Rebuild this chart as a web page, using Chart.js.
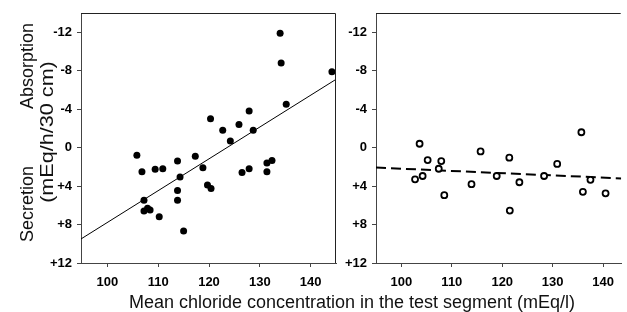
<!DOCTYPE html>
<html>
<head>
<meta charset="utf-8">
<script src="https://cdn.jsdelivr.net/npm/chart.js@4.4.1/dist/chart.umd.min.js"></script>
<style>
  body { margin: 0; background: #fff; }
  #wrap { position: relative; width: 627px; height: 312px; overflow: hidden; font-family: "Liberation Sans", Arial, sans-serif; }
  .box { position: absolute; top: 0; height: 312px; }
  .lbl { position: absolute; color: #111; font-size: 18px; white-space: nowrap; }
  .rot { transform: translate(-50%, -50%) rotate(-90deg); }
</style>
</head>
<body>
<div id="wrap">
  <div class="box" style="left:0; width:340px;"><canvas id="leftChart"></canvas></div>
  <div class="box" style="left:340px; width:287px;"><canvas id="rightChart"></canvas></div>
  <div class="lbl rot" style="left:27px; top:66px;">Absorption</div>
  <div class="lbl rot" style="left:27px; top:204px;">Secretion</div>
  <div class="lbl" style="left:47px; top:132px; transform:translate(-50%,-50%) rotate(-90deg) scaleX(1.2);">(mEq/h/30 cm)</div>
  <div class="lbl" style="left:352px; top:302px; transform:translate(-50%,-50%);">Mean chloride concentration in the test segment (mEq/l)</div>
</div>
<script>
// y: negative = absorption, positive = secretion
const yTicks = [-12, -8, -4, 0, 4, 8, 12];
const xTicks = [100, 110, 120, 130, 140];

// left panel: filled circles
const leftX = [134.0, 134.2, 144.2, 135.2, 127.9, 120.3, 122.7, 125.9, 128.7, 124.2,
               105.8, 117.3, 113.8, 106.8, 109.4, 110.9, 118.8, 114.3, 126.5, 127.9,
               131.4, 132.4, 131.4, 119.7, 120.4, 113.8, 113.8, 107.2, 107.2, 107.9,
               108.4, 110.2, 115.0];
const leftY = [-11.9, -8.8, -7.9, -4.5, -3.8, -3.0, -1.8, -2.4, -1.8, -0.7,
               0.8, 0.9, 1.4, 2.5, 2.25, 2.2, 2.1, 3.05, 2.6, 2.2,
               1.6, 1.35, 2.5, 3.9, 4.26, 4.47, 5.47, 5.47, 6.6, 6.3,
               6.5, 7.2, 8.66];
const leftFitX = [94.8, 145];
const leftFitY = [9.5, -7.1];

// right panel: open circles
const rightX = [103.6, 102.7, 104.2, 105.2, 107.9, 107.4, 108.5, 113.9, 115.7, 118.9,
                121.4, 121.5, 123.4, 128.3, 130.9, 135.7, 136.0, 137.5, 140.5];
const rightY = [-0.4, 3.3, 2.95, 1.3, 1.4, 2.2, 4.95, 3.8, 0.4, 2.95,
                1.05, 6.55, 3.6, 2.95, 1.7, -1.6, 4.6, 3.35, 4.75];
const rightFitX = [94.95, 143.6];
const rightFitY = [2.08, 3.2];

const pts = (xs, ys) => xs.map((x, i) => ({ x, y: ys[i] }));

const frame = {
  id: "frame",
  afterDraw(chart, args, opts) {
    const { ctx, chartArea: a } = chart;
    ctx.save();
    ctx.strokeStyle = "#222";
    ctx.lineWidth = 1;
    ctx.beginPath();
    ctx.moveTo(a.left, a.top + 0.5);
    ctx.lineTo(a.right - 0.5, a.top + 0.5);
    if (opts.right) ctx.lineTo(a.right - 0.5, a.bottom);
    ctx.stroke();
    ctx.restore();
  }
};

function makeChart(id, datasets, xMin, xMax, yWidth, padRight, rightBorder) {
  return new Chart(document.getElementById(id), {
    type: "scatter",
    data: { datasets },
    options: {
      responsive: true,
      maintainAspectRatio: false,
      animation: false,
      events: [],
      layout: { padding: { top: 13, right: padRight, left: 0, bottom: 0 } },
      plugins: { legend: { display: false }, tooltip: { enabled: false }, frame: { right: rightBorder } },
      scales: {
        x: {
          type: "linear",
          min: xMin,
          max: xMax,
          afterBuildTicks: ax => { ax.ticks = xTicks.map(v => ({ value: v })); },
          afterFit: ax => { ax.height = 49; },
          grid: { display: true, drawOnChartArea: false, drawTicks: true, tickLength: 4, color: "#444" },
          border: { display: true, color: "#444", width: 1 },
          ticks: { color: "#000", padding: 8, font: { family: "Liberation Sans", size: 13, weight: "bold" } }
        },
        y: {
          type: "linear",
          min: -14,
          max: 12,
          reverse: true,
          afterBuildTicks: ax => { ax.ticks = yTicks.map(v => ({ value: v })); },
          afterFit: ax => { ax.width = yWidth; },
          grid: { display: true, drawOnChartArea: false, drawTicks: true, tickLength: 4, color: "#444" },
          border: { display: true, color: "#444", width: 1 },
          ticks: {
            color: "#000", padding: 5,
            font: { family: "Liberation Sans", size: 13, weight: "bold" },
            callback: v => v > 0 ? "+" + v : "" + v
          }
        }
      }
    },
    plugins: [frame]
  });
}

makeChart("leftChart", [
  { data: pts(leftX, leftY), pointRadius: 3.5, pointBackgroundColor: "#000", pointBorderColor: "#000", pointBorderWidth: 0 },
  { type: "line", data: pts(leftFitX, leftFitY), borderColor: "#000", borderWidth: 1, pointRadius: 0, fill: false }
], 94.8, 145, 81, 2, true);

makeChart("rightChart", [
  { data: pts(rightX, rightY), pointRadius: 3, pointBackgroundColor: "#fff", pointBorderColor: "#000", pointBorderWidth: 1.8 },
  { type: "line", data: pts(rightFitX, rightFitY), borderColor: "#000", borderWidth: 2, borderDash: [10, 5], pointRadius: 0, fill: false }
], 94.95, 143.6, 36, 0, false);
</script>
</body>
</html>
